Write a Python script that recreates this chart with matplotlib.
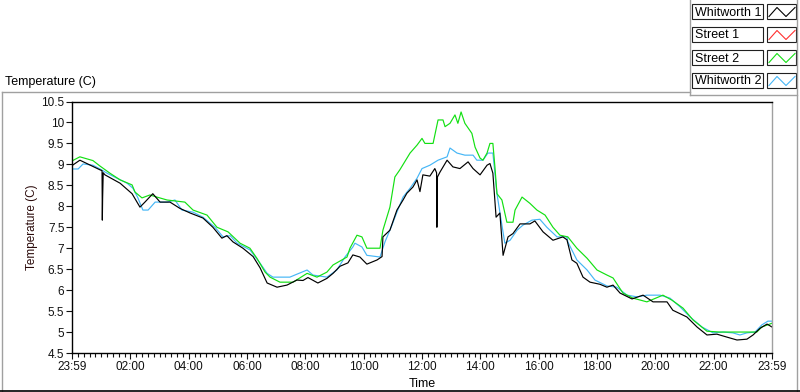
import numpy as np
import matplotlib.pyplot as plt
from matplotlib.lines import Line2D
from matplotlib.patches import Rectangle

# hours since 23:59 (0 .. 24) and temperature (C) for each probe
w1_t = [0.02, 0.27, 0.96, 1.03, 1.04, 1.05, 1.07, 1.13, 1.65, 2.06, 2.33, 2.50, 2.77, 3.02, 3.36,
        3.70, 4.05, 4.49, 4.83, 5.14, 5.31, 5.52, 5.86, 6.21, 6.45, 6.69, 7.03, 7.37, 7.71,
        7.92, 8.09, 8.43, 8.74, 8.95, 9.19, 9.46, 9.63, 9.87, 10.11, 10.46, 10.63, 10.66,
        10.90, 11.14, 11.35, 11.48, 11.69, 11.83, 11.93, 12.03, 12.27, 12.44, 12.50, 12.51,
        12.53, 12.62, 12.86, 13.06, 13.30, 13.58, 13.75, 13.99, 14.23, 14.33, 14.43, 14.54,
        14.67, 14.78, 14.95, 15.12, 15.36, 15.70, 15.87, 16.15, 16.49, 16.83, 16.97, 17.14,
        17.31, 17.52, 17.76, 18.10, 18.34, 18.55, 18.79, 19.20, 19.58, 19.92, 20.40, 20.60,
        21.08, 21.43, 21.77, 22.11, 22.45, 22.80, 23.14, 23.35, 23.59, 23.83, 24.0]
w1_v = [8.98, 9.10, 8.87, 8.85, 7.67, 8.20, 8.80, 8.75, 8.55, 8.30, 7.98, 8.10, 8.30, 8.10, 8.10,
        7.95, 7.84, 7.72, 7.50, 7.24, 7.30, 7.15, 7.00, 6.80, 6.53, 6.17, 6.07, 6.12, 6.24,
        6.23, 6.30, 6.17, 6.28, 6.40, 6.57, 6.65, 6.84, 6.79, 6.62, 6.72, 6.80, 7.27,
        7.43, 7.91, 8.15, 8.31, 8.46, 8.63, 8.35, 8.75, 8.72, 8.90, 8.80, 7.50,
        8.70, 8.82, 9.10, 8.94, 8.90, 9.06, 8.90, 8.75, 8.98, 9.02, 8.79, 7.74,
        7.84, 6.83, 7.27, 7.35, 7.58, 7.58, 7.65, 7.39, 7.19, 7.27, 7.20, 6.72,
        6.64, 6.31, 6.19, 6.14, 6.07, 6.12, 5.93, 5.79, 5.88, 5.72, 5.72, 5.52,
        5.36, 5.12, 4.93, 4.95, 4.88, 4.81, 4.83, 4.93, 5.09, 5.19, 5.12]

street1_t = []
street1_v = []

street2_t = [0.02, 0.27, 0.72, 0.96, 1.30, 1.65, 2.06, 2.16, 2.40, 2.67, 2.91, 3.26, 3.87, 4.15,
             4.63, 4.97, 5.35, 5.76, 6.10, 6.34, 6.62, 6.79, 7.13, 7.58, 8.06, 8.40, 8.74,
             8.95, 9.43, 9.53, 9.77, 9.94, 10.11, 10.56, 10.66, 10.90, 11.07, 11.24, 11.59,
             11.83, 12.00, 12.10, 12.38, 12.55, 12.72, 12.79, 12.96, 13.13, 13.23, 13.34,
             13.47, 13.71, 13.82, 13.99, 14.09, 14.23, 14.33, 14.43, 14.50, 14.57, 14.74,
             14.91, 15.12, 15.19, 15.43, 15.70, 15.94, 16.22, 16.49, 16.73, 17.00, 17.31,
             17.66, 18.00, 18.34, 18.55, 18.89, 19.23, 19.71, 20.26, 20.57, 20.95, 21.29,
             21.77, 22.21, 23.48, 23.65, 24.0]
street2_v = [9.09, 9.18, 9.09, 8.96, 8.79, 8.63, 8.51, 8.34, 8.20, 8.27, 8.22, 8.15, 8.10, 7.91,
             7.79, 7.50, 7.39, 7.12, 7.00, 6.76, 6.43, 6.31, 6.19, 6.19, 6.40, 6.31, 6.43,
             6.60, 6.79, 7.00, 7.31, 7.27, 7.00, 7.00, 7.43, 7.98, 8.70, 8.87, 9.27,
             9.46, 9.62, 9.50, 9.50, 10.06, 10.06, 9.90, 9.98, 10.18, 9.98, 10.25,
             9.98, 9.74, 9.41, 9.15, 9.10, 9.27, 9.50, 9.50, 8.94, 8.30, 8.15,
             7.62, 7.62, 7.91, 8.22, 8.07, 7.91, 7.79, 7.50, 7.31, 7.27, 7.00,
             6.76, 6.48, 6.36, 6.29, 5.93, 5.81, 5.72, 5.88, 5.76, 5.57, 5.29,
             5.02, 5.00, 5.00, 5.12, 5.21]

w2_t = [0.02, 0.21, 0.38, 0.72, 0.96, 1.20, 1.54, 1.89, 2.09, 2.26, 2.43, 2.61, 2.85, 3.26, 3.53,
        3.77, 4.15, 4.49, 4.90, 5.18, 5.42, 5.66, 6.10, 6.45, 6.69, 6.89, 7.47, 7.71, 8.06,
        8.26, 8.74, 9.08, 9.36, 9.63, 9.70, 9.94, 10.11, 10.56, 10.73, 10.97, 11.14, 11.35,
        11.59, 11.83, 12.00, 12.27, 12.55, 12.86, 12.96, 13.20, 13.47, 13.75, 13.88, 14.09,
        14.26, 14.43, 14.57, 14.74, 14.84, 15.02, 15.26, 15.46, 15.77, 16.04, 16.28, 16.63,
        16.97, 17.00, 17.31, 17.66, 17.93, 18.34, 18.68, 19.03, 19.37, 19.71, 20.16, 20.50,
        20.85, 21.19, 21.60, 21.98, 22.32, 22.66, 22.90, 23.14, 23.42, 23.65, 23.86, 24.0]
w2_v = [8.89, 8.89, 9.01, 8.98, 8.89, 8.79, 8.67, 8.55, 8.43, 8.20, 7.91, 7.91, 8.10, 8.10, 8.15,
        7.91, 7.86, 7.74, 7.50, 7.27, 7.30, 7.12, 6.96, 6.64, 6.40, 6.31, 6.31, 6.38, 6.48,
        6.36, 6.31, 6.48, 6.79, 7.03, 7.12, 7.03, 6.83, 6.79, 7.15, 7.55, 7.86, 8.22,
        8.43, 8.67, 8.90, 8.98, 9.10, 9.18, 9.39, 9.27, 9.22, 9.22, 9.10, 9.10,
        9.27, 9.27, 8.30, 7.55, 7.12, 7.19, 7.43, 7.55, 7.67, 7.69, 7.50, 7.27,
        7.27, 7.15, 6.72, 6.48, 6.24, 6.10, 6.07, 5.88, 5.84, 5.88, 5.88, 5.81,
        5.60, 5.36, 5.12, 4.98, 5.00, 4.98, 4.93, 4.98, 5.00, 5.17, 5.26, 5.26]

names = ["Whitworth 1", "Street 1", "Street 2", "Whitworth 2"]
colors = ["#000000", "#ff3030", "#12e012", "#45b6f6"]

x_ticks = [0, 2, 4, 6, 8, 10, 12, 14, 16, 18, 20, 22, 24]
x_labels = ["23:59", "02:00", "04:00", "06:00", "08:00", "10:00", "12:00",
            "14:00", "16:00", "18:00", "20:00", "22:00", "23:59"]
y_ticks = [4.5, 5, 5.5, 6, 6.5, 7, 7.5, 8, 8.5, 9, 9.5, 10, 10.5]

plt.rcParams['font.family'] = 'Liberation Sans'
W, H = 800, 392
fig = plt.figure(figsize=(8, 3.92), dpi=100)

def px(x, y):
    return x / W, 1 - y / H

ax = fig.add_axes([72 / W, 1 - 353 / H, 700 / W, 251.5 / H])
ax.plot(w2_t, w2_v, color=colors[3], lw=0.85)
ax.plot(street2_t, street2_v, color=colors[2], lw=0.85)
ax.plot(street1_t, street1_v, color=colors[1], lw=0.85)
ax.plot(w1_t, w1_v, color=colors[0], lw=0.85)

ax.set_xlim(0, 24)
ax.set_ylim(4.5, 10.5)
ax.set_xticks(x_ticks)
ax.set_xticklabels(x_labels)
ax.set_xticks(np.arange(0, 24.01, 0.2), minor=True)
ax.set_yticks(y_ticks)
ax.set_yticklabels([f"{v:g}" for v in y_ticks])
ax.tick_params(axis='both', which='major', direction='out', length=4, width=0.8,
               labelsize=8.5, pad=1.5, colors='#111111')
ax.tick_params(axis='x', which='minor', direction='out', length=3, width=0.8, color='#111111')
for s in ['left', 'top', 'bottom']:
    ax.spines[s].set_color('black')
    ax.spines[s].set_linewidth(1)
ax.spines['right'].set_color('#a0a0a0')
ax.spines['right'].set_linewidth(1)

fig.text(32 / W, 1 - 227 / H, "Temperature (C)", rotation=90, ha='center', va='center',
         fontsize=8.5, color='#2a0a0a')
fig.text(422 / W, 1 - 384 / H, "Time", ha='center', va='center', fontsize=9)
fig.text(5 / W, 1 - 82 / H, "Temperature (C)", ha='left', va='center', fontsize=9)

# panel frame
gray = '#a0a0a0'
frame = [((2, 92), (690, 92)), ((690, 0), (690, 95)), ((690, 95), (797, 95)),
         ((797, 0), (797, 391)), ((2, 92), (2, 391))]
for a, b in frame:
    (x0, y0), (x1, y1) = px(*a), px(*b)
    fig.add_artist(Line2D([x0, x1], [y0, y1], color=gray, lw=1))
(x0, y0), (x1, y1) = px(0, 391), px(800, 391)
fig.add_artist(Line2D([x0, x1], [y0, y1], color='black', lw=1.2))

# legend
for i, (name, c) in enumerate(zip(names, colors)):
    top = 4 + i * 23
    bx, by = px(692, top + 15)
    fig.add_artist(Rectangle((bx, by), 71 / W, 15 / H, fill=False, ec='#202020', lw=0.8))
    ix, iy = px(767, top + 15)
    fig.add_artist(Rectangle((ix, iy), 29 / W, 15 / H, fill=False, ec='#202020', lw=0.8))
    fig.text(695 / W, 1 - (top + 11.5) / H, name, ha='left', va='baseline', fontsize=9)
    zx = [769, 777, 786, 795]
    zy = [top + 12.5, top + 3.5, top + 12.5, top + 3.5]
    fig.add_artist(Line2D([v / W for v in zx], [1 - v / H for v in zy], color=c, lw=0.8))

fig.savefig("out.png", dpi=100)
